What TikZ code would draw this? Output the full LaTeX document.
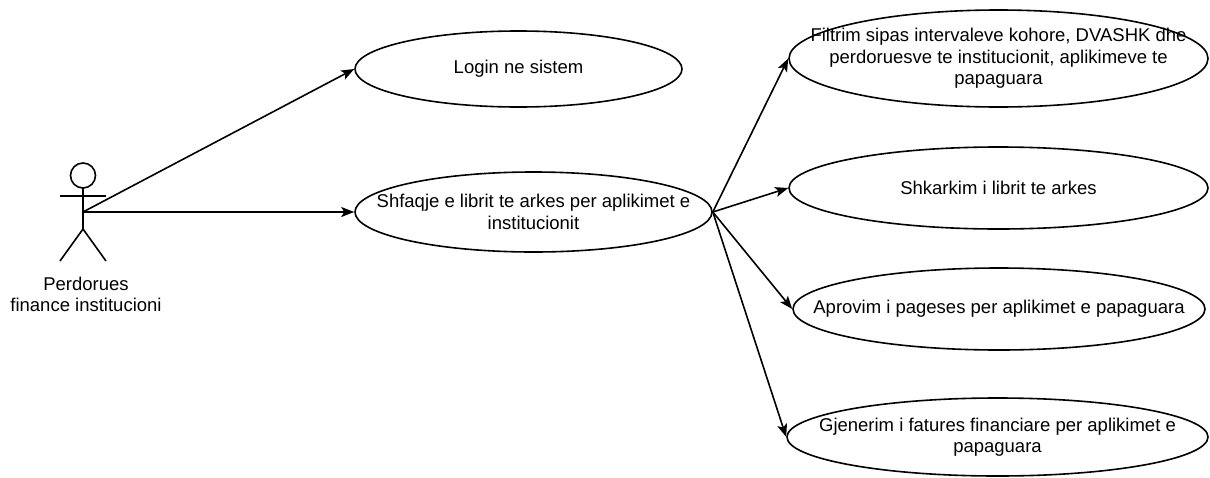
\documentclass[tikz,border=0pt]{standalone}
\usepackage{fontspec}
\setmainfont{Liberation Sans}
\usetikzlibrary{shapes.geometric,arrows.meta}

\begin{document}
\begin{tikzpicture}[x=1pt,y=-1pt,line width=1.6pt,
                font=\fontsize{18.5}{21.5}\selectfont,
                usecase/.style={draw, ellipse, inner sep=-60pt, align=center},
                assoc/.style={-{Stealth[length=13pt,width=10pt,inset=3pt]}}]
                \useasboundingbox (0,0) rectangle (1210,477);

                \draw (83,175.5) circle (12.5pt);
                \draw (60,196) -- (106,196);
                \draw (83,188) -- (83,229);
                \draw (60,261) -- (83,229) -- (106,261);
                \coordinate (actor) at (83,212);
                \node[align=center] (perdorues) at (86,294.5) {Perdorues\\finance institucioni};

                \node[usecase, minimum width=327, minimum height=76] (login) at (518.5,69) {Login ne sistem};
                \node[usecase, minimum width=357, minimum height=80] (shfaqje) at (533.5,212) {Shfaqje e librit te arkes per aplikimet e\\institucionit};

                \node[usecase, minimum width=419, minimum height=97] (filtrim) at (998.5,58.5) {Filtrim sipas intervaleve kohore, DVASHK dhe\\perdoruesve te institucionit, aplikimeve te\\papaguara};
                \node[usecase, minimum width=419, minimum height=82] (shkarkim) at (998.5,188) {Shkarkim i librit te arkes};
                \node[usecase, minimum width=412, minimum height=82] (aprovim) at (999,309) {Aprovim i pageses per aplikimet e papaguara};
                \node[usecase, minimum width=421, minimum height=78] (gjenerim) at (997.5,437) {Gjenerim i fatures financiare per aplikimet e\\papaguara};

                \draw [assoc](actor) -- (login.west);
                \draw [assoc](actor) -- (shfaqje.west);

                \draw [assoc](shfaqje.east) -- (filtrim.west);
                \draw [assoc](shfaqje.east) -- (shkarkim.west);
                \draw [assoc](shfaqje.east) -- (aprovim.west);
                \draw [assoc](shfaqje.east) -- (gjenerim.west);

            \end{tikzpicture}
\end{document}
